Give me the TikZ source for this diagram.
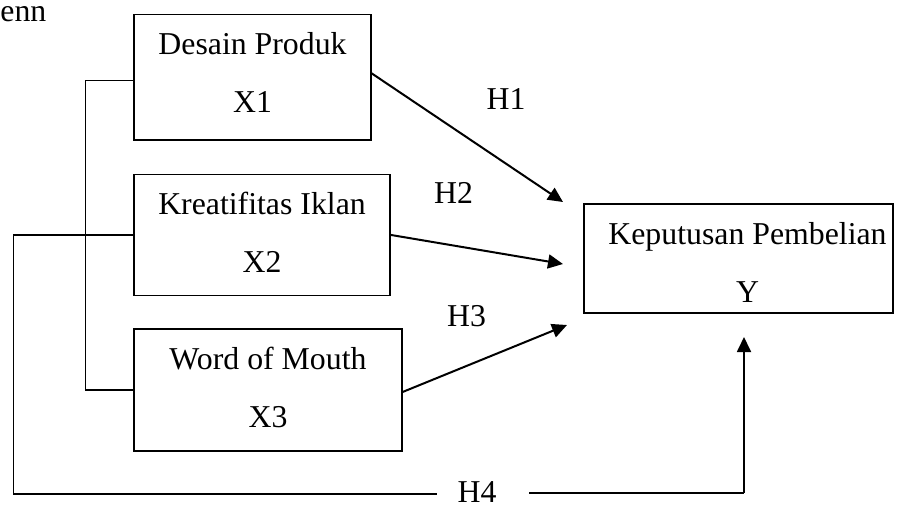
\documentclass[tikz,border=0pt]{standalone}
\usepackage{fontspec}
\setmainfont{Liberation Serif}
\usetikzlibrary{arrows.meta,positioning,calc}

\begin{document}
\begin{tikzpicture}[
  x=0.5pt, y=-0.5pt,
  box/.style={draw, rectangle, line width=0.6pt, align=center, inner sep=0pt, font=\fontsize{15.9}{29}\selectfont},
  lbl/.style={inner sep=0pt, font=\fontsize{15.9}{19}\selectfont},
  arr/.style={-{Triangle[length=7.5pt,width=7pt]}, line width=1pt},
  ln/.style={line width=0.6pt},
]
\useasboundingbox (0,0) rectangle (900,504);
\node[lbl, anchor=base west] (judul) at (0,21) {enn};
\node[box, minimum width=118.5pt, minimum height=62.7pt] (desain) at (252.5,77.3) {Desain Produk\\X1\rule[-4.5pt]{0pt}{4.5pt}};
\node[box, minimum width=128pt, minimum height=60.2pt] (kreatif) at (262,234.9) {Kreatifitas Iklan\\X2\rule[-2.5pt]{0pt}{2.5pt}};
\node[box, minimum width=134pt, minimum height=61pt] (wom) at (268,390) {Word of Mouth\\X3\rule[-3pt]{0pt}{3pt}};
\node[box, minimum width=154.5pt, minimum height=54.5pt] (keputusan) at (738.5,258.5) {\hspace*{9pt}\rule{0pt}{15pt}Keputusan Pembelian\\\hspace*{9pt}Y};
\node[lbl, anchor=base] (h1) at (506,109) {H1};
\node[lbl, anchor=base] (h2) at (453.5,203) {H2};
\node[lbl, anchor=base] (h3) at (466.5,326.5) {H3};
\node[lbl, anchor=base] (h4) at (477,502) {H4};
\coordinate (t1) at (563,202);
\coordinate (t2) at (563,264);
\coordinate (t3) at (567,325);
\coordinate (t4) at (744,337);
\coordinate (h4l) at (437,494);
\coordinate (h4r) at (529,493);
\draw[arr] ([yshift=2pt]desain.east) -- (t1);
\draw[arr] (kreatif.east) -- (t2);
\draw[arr] ([yshift=-1pt]wom.east) -- (t3);
\draw[ln] ([yshift=-1.7pt]desain.west) -- ++(-48,0) |- (wom.west);
\draw[ln] (kreatif.west) -- ++(-120,0) |- (h4l);
\draw[ln] (h4r) -- (h4r -| t4);
\draw[arr, line width=0.9pt] (h4r -| t4) -- (t4);
\end{tikzpicture}
\end{document}
